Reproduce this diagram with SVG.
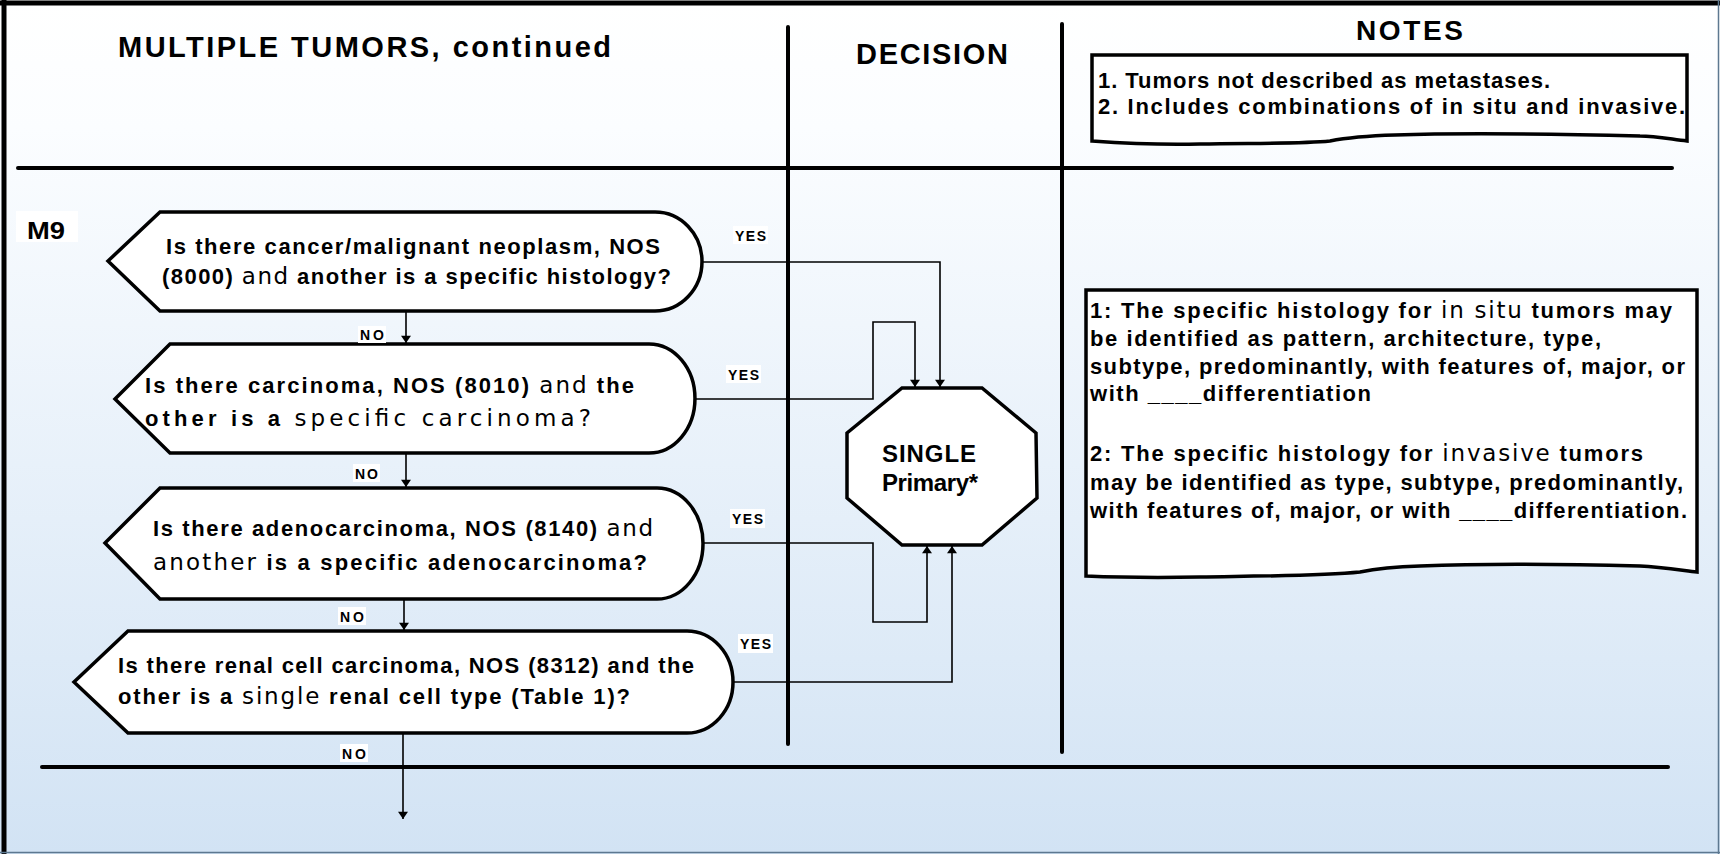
<svg xmlns="http://www.w3.org/2000/svg" width="1720" height="854" viewBox="0 0 1720 854">
  <defs>
    <linearGradient id="bg" x1="0" y1="0" x2="0" y2="1">
      <stop offset="0" stop-color="#ffffff"/>
      <stop offset="0.15" stop-color="#fbfdff"/>
      <stop offset="1" stop-color="#d2e3f4"/>
    </linearGradient>
    <marker id="arrow" viewBox="0 0 10 14" refX="10" refY="7" markerWidth="14" markerHeight="10" markerUnits="userSpaceOnUse" orient="auto">
      <path d="M0,0 L10,7 L0,14 Z" fill="#000"/>
    </marker>
    <style>
      .rule { stroke: #000; stroke-width: 4; stroke-linecap: round; fill: none; }
      .shape { fill: #fff; stroke: #000; stroke-width: 3.5; stroke-linejoin: miter; }
      .conn { fill: none; stroke: #000; stroke-width: 1.6; }
      .head { font-family: "Liberation Sans", Arial, sans-serif; font-weight: bold; fill: #000; }
      .txt { font-family: "Liberation Sans", Arial, sans-serif; font-weight: bold; font-size: 22px; fill: #000; }
      .wide { font-family: "DejaVu Sans", Verdana, sans-serif; font-weight: normal; font-size: 23px; }
      .lbl { font-family: "Liberation Sans", Arial, sans-serif; font-weight: bold; font-size: 14px; fill: #000; }
      .lblbg { fill: #fff; }
    </style>
  </defs>

  <!-- page background and frame -->
  <rect x="0" y="0" width="1720" height="854" fill="url(#bg)"/>
  <line x1="0" y1="3" x2="1720" y2="3" stroke="#000" stroke-width="5"/>
  <line x1="4" y1="0" x2="4" y2="854" stroke="#000" stroke-width="5"/>
  <line x1="1718.5" y1="0" x2="1718.5" y2="854" stroke="#5d7890" stroke-width="1.5"/>
  <line x1="0" y1="852.5" x2="1720" y2="852.5" stroke="#5d7890" stroke-width="1.5"/>

  <!-- column and row rules -->
  <g id="rules">
    <line class="rule" x1="18" y1="168" x2="1672" y2="168"/>
    <line class="rule" x1="42" y1="767" x2="1668" y2="767"/>
    <line class="rule" x1="788" y1="27" x2="788" y2="744"/>
    <line class="rule" x1="1062" y1="24" x2="1062" y2="752"/>
  </g>

  <!-- column headings -->
  <g id="headings">
    <text class="head" x="118" y="57" font-size="29" textLength="493">MULTIPLE TUMORS, continued</text>
    <text class="head" x="856" y="64" font-size="29" textLength="152">DECISION</text>
    <text class="head" x="1356" y="40" font-size="28" textLength="107">NOTES</text>
  </g>

  <!-- general notes box -->
  <g id="notes-general">
    <path class="shape" d="M1092,55 H1687 V141 C1670,139 1655,136 1640,136 C1560,134 1450,133 1395,135 C1360,136 1345,138 1330,141 C1300,144 1250,143 1200,144 C1160,145 1120,143 1092,141 Z"/>
    <text class="txt" x="1098" y="88" textLength="452">1.  Tumors not described as metastases.</text>
    <text class="txt" x="1098" y="114" textLength="587">2.  Includes combinations of in situ and invasive.</text>
  </g>

  <!-- rule label -->
  <g id="m9">
    <rect x="16" y="211" width="62" height="31" fill="#fff"/>
    <text class="head" x="27" y="239" font-size="24" textLength="38" lengthAdjust="spacingAndGlyphs">M9</text>
  </g>

  <!-- decision nodes -->
  <g id="d1">
    <path class="shape" d="M108,261 L160,212 H655 A47,49.5 0 0 1 655,311 H160 Z"/>
    <text class="txt" x="166" y="254" textLength="494">Is there cancer/malignant neoplasm, NOS</text>
    <text class="txt" x="162" y="284" textLength="509">(8000) <tspan class="wide">and</tspan> another is a specific histology?</text>
  </g>
  <g id="d2">
    <path class="shape" d="M115,399 L170,344 H649 A46,54.5 0 0 1 649,453 H170 Z"/>
    <text class="txt" x="145" y="393" textLength="489">Is there carcinoma, NOS (8010) <tspan class="wide">and</tspan> the</text>
    <text class="txt" x="145" y="426" textLength="446">other is a <tspan class="wide">specific carcinoma?</tspan></text>
  </g>
  <g id="d3">
    <path class="shape" d="M105,543 L160,488 H657 A46,55.5 0 0 1 657,599 H160 Z"/>
    <text class="txt" x="153" y="536" textLength="500">Is there adenocarcinoma, NOS (8140) <tspan class="wide">and</tspan></text>
    <text class="txt" x="153" y="570" textLength="494"><tspan class="wide">another</tspan> is a specific adenocarcinoma?</text>
  </g>
  <g id="d4">
    <path class="shape" d="M74,682 L128,631 H687 A46,51 0 0 1 687,733 H128 Z"/>
    <text class="txt" x="118" y="673" textLength="576">Is there renal cell carcinoma, NOS (8312) and the</text>
    <text class="txt" x="118" y="704" textLength="512">other is a <tspan class="wide">single</tspan> renal cell type (Table 1)?</text>
  </g>

  <!-- outcome -->
  <g id="single-primary">
    <polygon class="shape" points="902,388 982,388 1036,433 1037,498 982,545 902,545 847,498 847,433"/>
    <text class="head" x="882" y="462" font-size="24" textLength="94">SINGLE</text>
    <text class="head" x="882" y="491" font-size="24" textLength="96">Primary*</text>
  </g>

  <!-- explanatory notes box -->
  <g id="notes-histology">
    <path class="shape" d="M1086,290 H1697 V572 C1680,570 1660,567 1640,566 C1560,564 1470,564 1420,566 C1390,567 1375,569 1360,572 C1320,576 1260,576 1200,577 C1150,578 1110,577 1086,576 Z"/>
    <text class="txt" x="1090" y="318" textLength="582">1: The specific histology for <tspan class="wide">in situ</tspan> tumors may</text>
    <text class="txt" x="1090" y="346" textLength="511">be identified as pattern, architecture, type,</text>
    <text class="txt" x="1090" y="374" textLength="595">subtype, predominantly, with features of, major, or</text>
    <text class="txt" x="1090" y="401" textLength="281">with ____differentiation</text>
    <text class="txt" x="1090" y="461" textLength="553">2: The specific histology for <tspan class="wide">invasive</tspan> tumors</text>
    <text class="txt" x="1090" y="490" textLength="593">may be identified as type, subtype, predominantly,</text>
    <text class="txt" x="1090" y="518" textLength="597">with features of, major, or with ____differentiation.</text>
  </g>

  <!-- connectors -->
  <g id="connectors">
    <path class="conn" d="M702,262 H940 V387" marker-end="url(#arrow)"/>
    <path class="conn" d="M695,399 H873 V322 H915 V387" marker-end="url(#arrow)"/>
    <path class="conn" d="M703,543 H873 V622 H927 V546" marker-end="url(#arrow)"/>
    <path class="conn" d="M733,682 H952 V546" marker-end="url(#arrow)"/>
    <path class="conn" d="M406,311 V343" marker-end="url(#arrow)"/>
    <path class="conn" d="M406,454 V487" marker-end="url(#arrow)"/>
    <path class="conn" d="M404,599 V630" marker-end="url(#arrow)"/>
    <path class="conn" d="M403,733 V819" marker-end="url(#arrow)"/>

    <rect class="lblbg" x="733" y="226" width="35" height="18"/>
    <text class="lbl" x="735" y="241" textLength="31">YES</text>
    <rect class="lblbg" x="726" y="365" width="35" height="18"/>
    <text class="lbl" x="728" y="380" textLength="31">YES</text>
    <rect class="lblbg" x="730" y="509" width="35" height="19"/>
    <text class="lbl" x="732" y="524" textLength="31">YES</text>
    <rect class="lblbg" x="738" y="634" width="35" height="19"/>
    <text class="lbl" x="740" y="649" textLength="31">YES</text>

    <rect class="lblbg" x="358" y="326" width="28" height="17"/>
    <text class="lbl" x="360" y="340" textLength="24">NO</text>
    <rect class="lblbg" x="353" y="464" width="27" height="18"/>
    <text class="lbl" x="355" y="479" textLength="23">NO</text>
    <rect class="lblbg" x="338" y="607" width="28" height="18"/>
    <text class="lbl" x="340" y="622" textLength="24">NO</text>
    <rect class="lblbg" x="340" y="744" width="28" height="18"/>
    <text class="lbl" x="342" y="759" textLength="24">NO</text>
  </g>
</svg>
